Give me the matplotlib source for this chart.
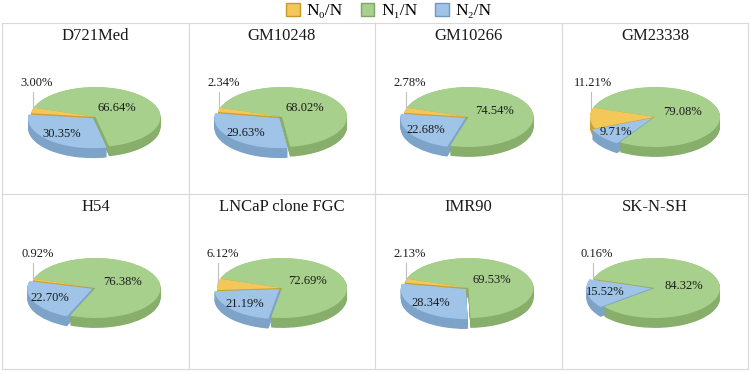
import numpy as np
import matplotlib.pyplot as plt
from matplotlib.patches import Patch

plt.rcParams['font.family'] = ['Liberation Serif', 'DejaVu Serif']

cells = ['D721Med', 'GM10248', 'GM10266', 'GM23338',
         'H54', 'LNCaP clone FGC', 'IMR90', 'SK-N-SH']
n0 = [3.00, 2.34, 2.78, 11.21, 0.92, 6.12, 2.13, 0.16]
n1 = [66.64, 68.02, 74.54, 79.08, 76.38, 72.69, 69.53, 84.32]
n2 = [30.35, 29.63, 22.68, 9.71, 22.70, 21.19, 28.34, 15.52]
series = ['N\u2080/N', 'N\u2081/N', 'N\u2082/N']

# colours for N0, N1, N2
top_col = ['#f3c859', '#a8d08d', '#9fc4e7']
side_col = ['#c9a032', '#87ae6b', '#7ea3c9']
edge_col = ['#c49a2c', '#7fa463', '#7198c0']

W, H = 751, 371
col_x = [2, 189, 375, 562, 748]
row_y = [23, 194, 369]
px_x, px_y = 65.0, 30.0   # pixels per data unit (squashed pie)
cy_px = 94                 # pie centre below the panel top
depth = 0.33
start = 162

fig = plt.figure(figsize=(W / 100, H / 100), dpi=100)

for i, name in enumerate(cells):
    r, c = divmod(i, 4)
    x0, x1 = col_x[c], col_x[c + 1]
    y0, y1 = row_y[r], row_y[r + 1]
    ax = fig.add_axes([x0 / W, 1 - y1 / H, (x1 - x0) / W, (y1 - y0) / H])

    # order drawn clockwise from the start angle: N1, N2, N0
    vals = [n1[i], n2[i], n0[i]]
    top = [top_col[1], top_col[2], top_col[0]]
    side = [side_col[1], side_col[2], side_col[0]]
    explode = [0, 0.055, 0]

    # side wall: stacked copies of the pie
    for t in np.linspace(depth, 0.01, 16):
        ax.pie(vals, colors=side, startangle=start, counterclock=False,
               explode=explode, center=(0, -t),
               wedgeprops=dict(linewidth=0))
    wedges, _ = ax.pie(vals, colors=top, startangle=start, counterclock=False,
                       explode=explode, wedgeprops=dict(linewidth=0))

    # labels
    g, b, y = wedges
    for w, rr, v in [(g, 0.45, n1[i]), (b, 0.72, n2[i])]:
        mid = np.deg2rad((w.theta1 + w.theta2) / 2)
        cx, cy = w.center
        ax.text(cx + rr * np.cos(mid), cy + rr * np.sin(mid), '%.2f%%' % v,
                ha='center', va='center', fontsize=9, color='#1a1a1a')
    span = y.theta2 - y.theta1
    a = np.deg2rad(y.theta1 + min(span * 0.3, 6))
    lx, ly = np.cos(a), np.sin(a)
    ax.plot([lx, lx], [ly, 0.85], color='#bfbfbf', lw=0.8)
    ax.text(lx + 0.31, 1.13, '%.2f%%' % n0[i], ha='right', va='center',
            fontsize=9, color='#1a1a1a')

    ax.text(0.5, 1 - 13 / (y1 - y0), name, transform=ax.transAxes,
            ha='center', va='center', fontsize=12, color='#1a1a1a')

    half = (x1 - x0) / 2 / px_x
    ax.set_aspect('auto')
    ax.set_frame_on(True)
    ax.set_xticks([])
    ax.set_yticks([])
    ax.set_xlim(-half, half)
    ax.set_ylim(-(y1 - y0 - cy_px) / px_y, cy_px / px_y)
    for s in ax.spines.values():
        s.set_color('#d9d9d9')
        s.set_linewidth(0.8)

handles = [Patch(facecolor=top_col[k], edgecolor=edge_col[k], label=series[k])
           for k in range(3)]
fig.legend(handles=handles, loc='center', bbox_to_anchor=(389 / W, 1 - 11 / H),
           ncol=3, frameon=False, fontsize=12.5, handlelength=0.8, handleheight=0.8,
           handletextpad=0.4, columnspacing=1.0)

fig.savefig('out.png', dpi=100)
